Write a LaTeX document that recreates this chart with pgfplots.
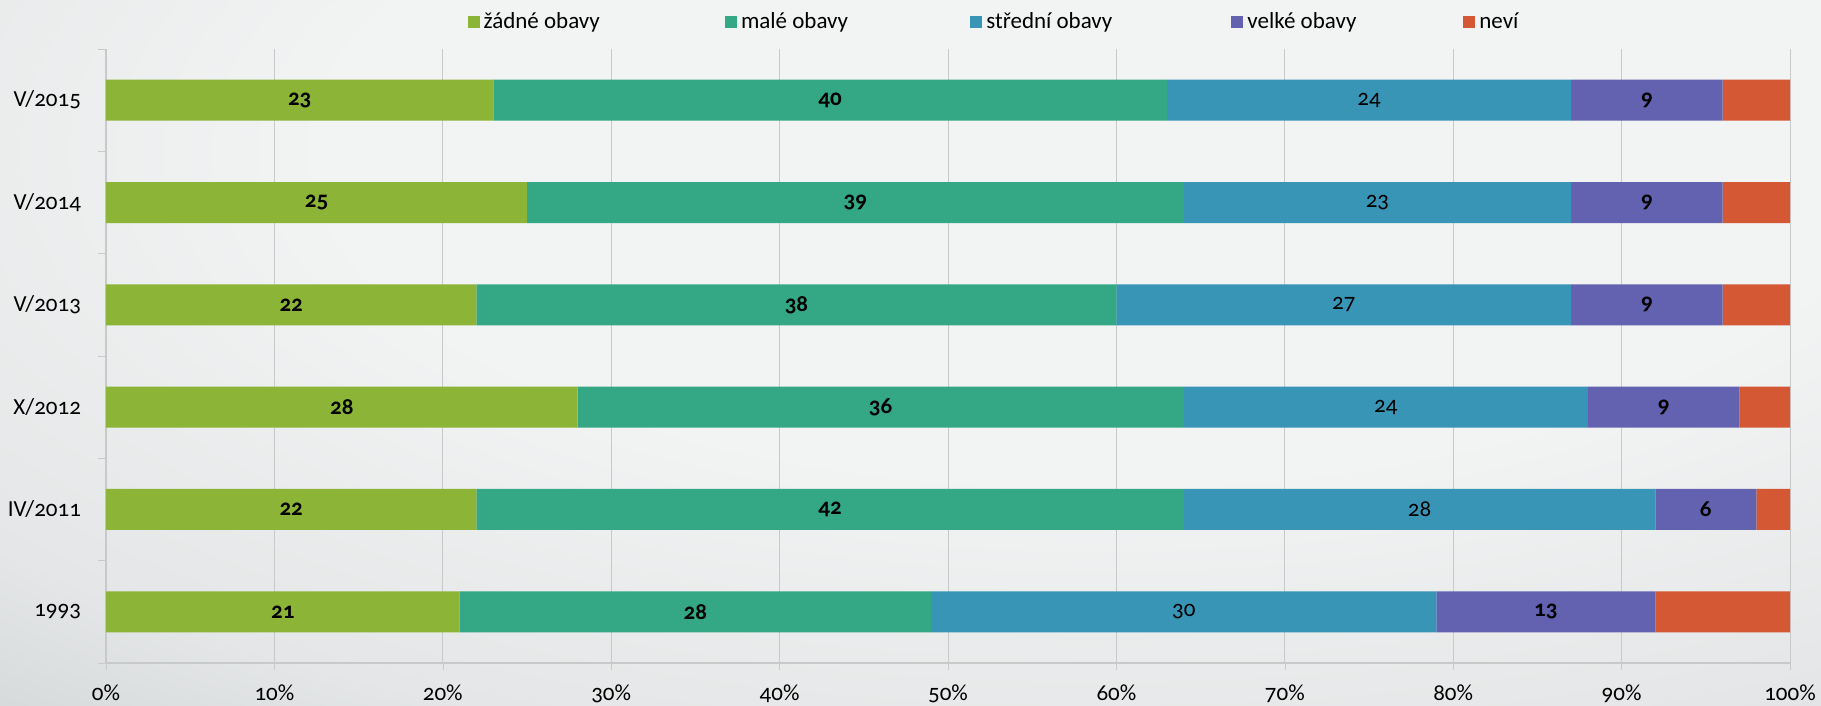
\documentclass[border=0pt]{standalone}
\usepackage{pgfplots}
\pgfplotsset{compat=1.18}
\usepackage{fontspec}
\setmainfont{Carlito}[Numbers=OldStyle]
\definecolor{cGreen}{RGB}{140,180,54}
\definecolor{cTeal}{RGB}{52,167,133}
\definecolor{cBlue}{RGB}{56,149,181}
\definecolor{cPurple}{RGB}{98,98,176}
\definecolor{cOrange}{RGB}{212,88,51}
\definecolor{bgA}{RGB}{242,243,243}
\definecolor{bgB}{RGB}{228,230,231}
\definecolor{bgC}{RGB}{205,209,210}
\definecolor{bgD}{RGB}{195,199,201}
\definecolor{gridc}{RGB}{200,201,202}
\pgfdeclareradialshading{bgshade}{\pgfpoint{0bp}{0bp}}{color(0bp)=(bgA); color(11bp)=(bgA); color(20.5bp)=(bgB); color(27.5bp)=(bgC); color(33bp)=(bgD); color(50bp)=(bgD)}
\begin{document}
\begin{tikzpicture}
\useasboundingbox (0,0) rectangle (910.5pt,353pt);
\begin{scope}
\clip (0,0) rectangle (910.5pt,353pt);
\shade[shading=bgshade] (-325pt,-97pt) rectangle (1425pt,653pt);
\end{scope}
\begin{axis}[
  at={(53pt,21.5pt)}, anchor=south west,
  scale only axis, width=842pt, height=307pt,
  xbar stacked, bar width=20.5pt,
  xmin=0, xmax=100, ymin=-0.5, ymax=5.5,
  font=\fontsize{11.5}{13}\selectfont,
  xtick={0,10,...,100},
  xticklabel={\pgfmathprintnumber[assume math mode=true]{\tick}\%},
  ytick={0,...,5},
  yticklabels={1993,IV/2011,X/2012,V/2013,V/2014,V/2015},
  minor ytick={-0.5,0.5,...,5.5},
  ytick style={draw=none},
  minor y tick style={draw=gridc},
  x tick style={draw=gridc},
  tick align=outside,
  major tick length=3.5pt, minor tick length=4pt,
  xmajorgrids, major grid style={gridc, line width=0.5pt},
  axis x line*=bottom, axis y line*=left,
  axis line style={gridc, line width=0.6pt},
  xticklabel style={yshift=-4pt},
  yticklabel style={xshift=-5.5pt},
  legend columns=5,
  legend style={at={(0.2145,1.044)}, anchor=west, draw=none, fill=none, inner sep=0pt,
    /tikz/every even column/.append style={column sep=0pt}},
  legend image code/.code={\fill[#1] (0pt,-3pt) rectangle (6pt,3pt);},
  visualization depends on={rawx \as \rawx},
  nodes near coords={\pgfmathprintnumber[assume math mode=true]{\rawx}},
  every node near coord/.append style={anchor=center},
]
\addplot[fill=cGreen, draw=none, nodes near coords style={font=\fontsize{11.5}{13}\selectfont\bfseries}]
  coordinates {(23,5) (25,4) (22,3) (28,2) (22,1) (21,0)};
\addlegendentry{\makebox[118.7pt][l]{žádné obavy}}
\addplot[fill=cTeal, draw=none, nodes near coords style={font=\fontsize{11.5}{13}\selectfont\bfseries}]
  coordinates {(40,5) (39,4) (38,3) (36,2) (42,1) (28,0)};
\addlegendentry{\makebox[112.7pt][l]{malé obavy}}
\addplot[fill=cBlue, draw=none]
  coordinates {(24,5) (23,4) (27,3) (24,2) (28,1) (30,0)};
\addlegendentry{\makebox[120.5pt][l]{střední obavy}}
\addplot[fill=cPurple, draw=none, nodes near coords style={font=\fontsize{11.5}{13}\selectfont\bfseries}]
  coordinates {(9,5) (9,4) (9,3) (9,2) (6,1) (13,0)};
\addlegendentry{\makebox[106pt][l]{velké obavy}}
\addplot[fill=cOrange, draw=none, nodes near coords={}]
  coordinates {(4,5) (4,4) (4,3) (3,2) (2,1) (8,0)};
\addlegendentry{neví}
\end{axis}
\end{tikzpicture}
\end{document}
